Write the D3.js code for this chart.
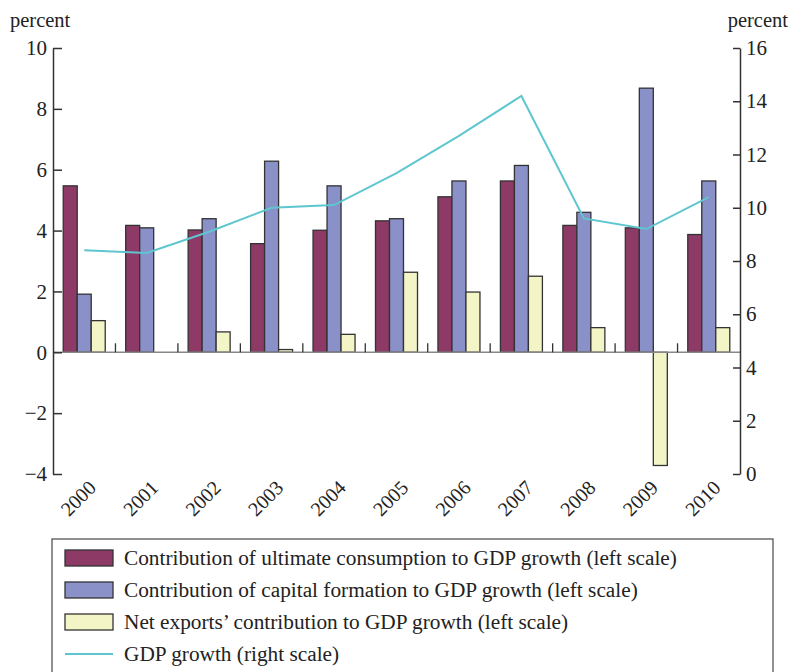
<!DOCTYPE html>
<html>
<head>
<meta charset="utf-8">
<script src="https://cdn.jsdelivr.net/npm/d3@7"></script>
<style>
  body { margin: 0; background: #fff; }
  svg text { font-family: "Liberation Serif", "DejaVu Serif", serif; }
</style>
</head>
<body>
<svg id="chart" width="790" height="672"></svg>
<script>
// data
const years = ["2000","2001","2002","2003","2004","2005","2006","2007","2008","2009","2010"];
const consumption = [5.47, 4.17, 4.02, 3.57, 4.01, 4.32, 5.11, 5.63, 4.17, 4.09, 3.87];
const capital     = [1.91, 4.09, 4.39, 6.28, 5.47, 4.39, 5.63, 6.14, 4.60, 8.68, 5.63];
const netExports  = [1.04, 0.00, 0.67, 0.09, 0.59, 2.63, 1.98, 2.50, 0.81, -3.72, 0.81];
const gdpGrowth   = [8.4, 8.3, 9.1, 10.0, 10.1, 11.3, 12.7, 14.2, 9.6, 9.2, 10.4];
const leftTicks  = [-4, -2, 0, 2, 4, 6, 8, 10];
const rightTicks = [0, 2, 4, 6, 8, 10, 12, 14, 16];

const series = [
  { name: "Contribution of ultimate consumption to GDP growth (left scale)", values: consumption, color: "#8e3a67" },
  { name: "Contribution of capital formation to GDP growth (left scale)", values: capital, color: "#8a90c8" },
  { name: "Net exports\u2019 contribution to GDP growth (left scale)", values: netExports, color: "#f4f5c6" }
];

const svg = d3.select("#chart");
const plotLeft = 53, plotRight = 740, plotTop = 48, plotBottom = 474;
const serif = "'Liberation Serif', 'DejaVu Serif', serif";

const x = d3.scaleBand().domain(years).range([plotLeft, plotRight]).padding(0);
const inner = d3.scaleBand().domain(d3.range(series.length)).range([0, 42]);
const yL = d3.scaleLinear().domain([-4, 10]).range([plotBottom, plotTop]);
const yR = d3.scaleLinear().domain([0, 16]).range([plotBottom, plotTop]);

// bars
series.forEach((s, i) => {
  svg.append("g").selectAll("rect")
    .data(s.values)
    .join("rect")
    .attr("x", (d, j) => x(years[j]) + (x.bandwidth() - 42) / 2 + inner(i))
    .attr("y", d => yL(Math.max(0, d)))
    .attr("width", inner.bandwidth())
    .attr("height", d => Math.abs(yL(d) - yL(0)))
    .attr("fill", s.color)
    .attr("stroke", "#333")
    .attr("stroke-width", 1.3)
    .attr("display", d => d === 0 ? "none" : null);
});

// zero line with category ticks
svg.append("line")
  .attr("x1", plotLeft).attr("x2", plotRight)
  .attr("y1", yL(0)).attr("y2", yL(0))
  .attr("stroke", "#888").attr("stroke-width", 1.5);
svg.append("g").selectAll("line")
  .data(years.slice(1))
  .join("line")
  .attr("x1", d => x(d)).attr("x2", d => x(d))
  .attr("y1", yL(0)).attr("y2", yL(0) - 9)
  .attr("stroke", "#333").attr("stroke-width", 1.3);

// gdp line
const line = d3.line()
  .x((d, j) => x(years[j]) + x.bandwidth() / 2)
  .y(d => yR(d));
svg.append("path")
  .datum(gdpGrowth)
  .attr("d", line)
  .attr("fill", "none")
  .attr("stroke", "#5ec6cf")
  .attr("stroke-width", 2);

// axes
const axisL = svg.append("g")
  .attr("transform", `translate(${plotLeft},0)`)
  .call(d3.axisLeft(yL).tickValues(leftTicks).tickSizeInner(-9).tickSizeOuter(0).tickPadding(6));
const axisR = svg.append("g")
  .attr("transform", `translate(${plotRight},0)`)
  .call(d3.axisRight(yR).tickValues(rightTicks).tickSizeInner(-7).tickSizeOuter(0).tickPadding(6));
[axisL, axisR].forEach(g => {
  g.attr("font-family", null).attr("font-size", null);
  g.selectAll("path, line").attr("stroke", "#333").attr("stroke-width", 1.5);
  g.selectAll("text").style("font-size", "21px").style("font-family", serif).attr("fill", "#222");
});

// year labels
svg.append("g").selectAll("text")
  .data(years)
  .join("text")
  .attr("transform", d => `translate(${x(d) + x.bandwidth() / 2 + 13},489) rotate(-45)`)
  .attr("text-anchor", "end")
  .style("font-size", "20px").style("font-family", serif)
  .attr("fill", "#222")
  .text(d => d);

// unit labels
svg.append("text").attr("x", 10).attr("y", 27).style("font-size", "20.5px").style("font-family", serif).attr("fill", "#222").text("percent");
svg.append("text").attr("x", 788).attr("y", 27).attr("text-anchor", "end").style("font-size", "20.5px").style("font-family", serif).attr("fill", "#222").text("percent");

// legend
const legend = svg.append("g");
legend.append("rect")
  .attr("x", 52).attr("y", 539).attr("width", 721).attr("height", 150)
  .attr("fill", "none").attr("stroke", "#555").attr("stroke-width", 1.3);
const legendItems = series.map(s => ({ name: s.name, color: s.color, kind: "bar" }))
  .concat([{ name: "GDP growth (right scale)", color: "#5ec6cf", kind: "line" }]);
legendItems.forEach((s, i) => {
  const cy = 558 + i * 32;
  if (s.kind === "bar") {
    legend.append("rect")
      .attr("x", 65).attr("y", cy - 8).attr("width", 48).attr("height", 16)
      .attr("fill", s.color).attr("stroke", "#333").attr("stroke-width", 1.3);
  } else {
    legend.append("line")
      .attr("x1", 65).attr("x2", 113).attr("y1", cy).attr("y2", cy)
      .attr("stroke", s.color).attr("stroke-width", 2);
  }
  legend.append("text")
    .attr("x", 124).attr("y", cy + 7)
    .style("font-size", "21.3px").style("font-family", serif)
    .attr("fill", "#222")
    .text(s.name);
});
</script>
</body>
</html>
